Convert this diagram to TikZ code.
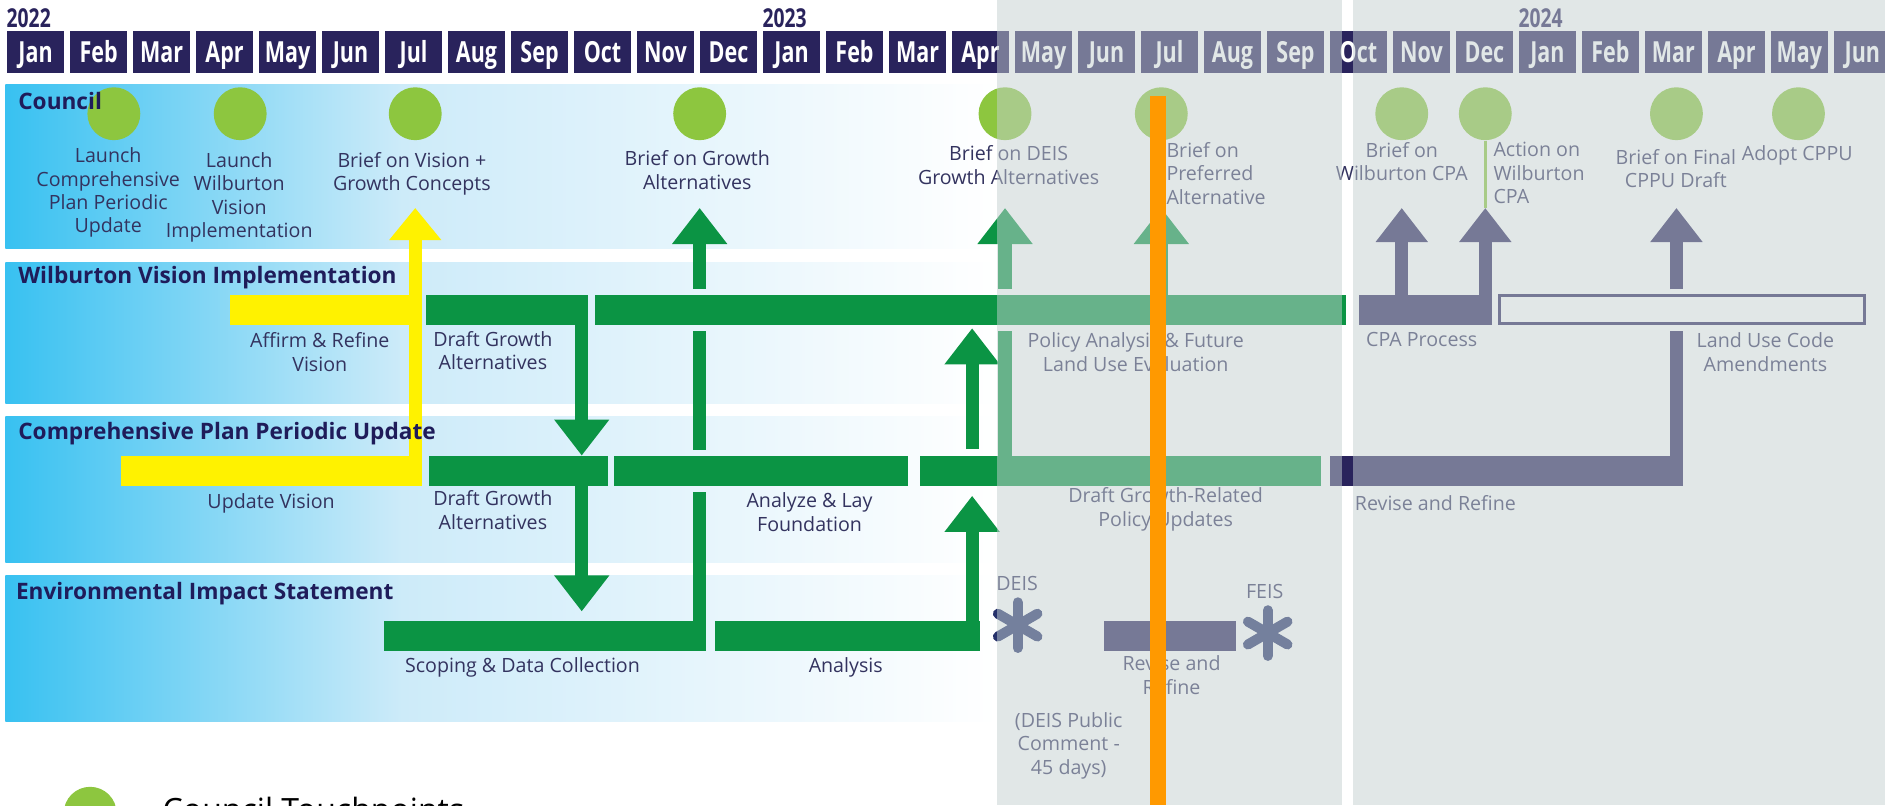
\documentclass[tikz,border=0pt]{standalone}
\usepackage{fontspec}
\setmainfont{Open Sans}
\newfontfamily\condfont[FakeStretch=0.74]{Open Sans}
\usetikzlibrary{positioning,arrows.meta}

\definecolor{navy}{HTML}{29235C}
\definecolor{bargreen}{HTML}{0B9444}
\definecolor{touchgreen}{HTML}{8DC63F}
\definecolor{visionyellow}{HTML}{FFF200}
\definecolor{textnavy}{HTML}{33335F}
\definecolor{titlenavy}{HTML}{1F1C5A}
\definecolor{laneblue}{HTML}{38C1F1}
\definecolor{lanemid}{HTML}{CDEBF9}
\definecolor{futuregray}{HTML}{C4D0D0}
\definecolor{todayorange}{HTML}{FF9900}
\definecolor{starnavy}{HTML}{25306A}

\pgfdeclarehorizontalshading{lanefade}{100bp}{color(0bp)=(laneblue); color(25bp)=(laneblue); color(45bp)=(lanemid); color(75bp)=(white); color(100bp)=(white)}

\newcommand{\timebar}[5]{\node[#1, minimum width={(#4-#3)*0.6pt}] (#2) at (#3,#5) {};}

\tikzset{
  monthbox/.style={fill=navy, text=white, minimum width=28.8pt, minimum height=21pt, inner sep=0pt,
    text height=10.4pt, text depth=0pt, font=\condfont\bfseries\fontsize{14.5}{14.5}\selectfont},
  yearlbl/.style={text=navy, inner sep=0pt, font=\condfont\bfseries\fontsize{13}{13}\selectfont},
  lanetitle/.style={text=titlenavy, inner sep=0pt, anchor=base west, font=\bfseries\fontsize{11.3}{13}\selectfont},
  lbl/.style={text=textnavy, inner sep=0pt, align=center, anchor=north, font=\fontsize{9.8}{11.7}\selectfont},
  touch/.style={circle, fill=touchgreen, minimum size=26.4pt, inner sep=0pt},
  tlbar/.style={minimum height=15.3pt, inner sep=0pt, outer sep=0pt, anchor=west},
  gbar/.style={tlbar, fill=bargreen},
  ybar/.style={tlbar, fill=visionyellow},
  nbar/.style={tlbar, fill=navy},
  gline/.style={draw=bargreen, line width=6.6pt},
  nline/.style={draw=navy, line width=6.6pt},
  garrow/.style={gline, -{Triangle[width=26.4pt,length=18pt]}},
  yarrow/.style={draw=visionyellow, line width=6.6pt, -{Triangle[width=25pt,length=16pt]}},
  narrow/.style={nline, -{Triangle[width=25pt,length=17pt]}},
  deisstar/.pic={\foreach \a in {90,30,-30} \draw[starnavy, line width=5pt, line cap=round] (\a:11.4pt) -- (\a+180:11.4pt);}
}

\begin{document}
\begin{tikzpicture}[x=0.6pt, y=-0.6pt]
\useasboundingbox (0,0) rectangle (1568,670);
\clip (0,0) rectangle (1568,670);

\shade[shading=lanefade] (4.5,70.7) rectangle (829.6,206.6);
\shade[shading=lanefade] (4.5,218.5) rectangle (829.6,335.5);
\shade[shading=lanefade] (4.5,346.6) rectangle (829.6,468);
\shade[shading=lanefade] (4.5,478.3) rectangle (829.6,600);

\foreach \mon [count=\i from 0] in {Jan,Feb,Mar,Apr,May,Jun,Jul,Aug,Sep,Oct,Nov,Dec,Jan,Feb,Mar,Apr,May,Jun,Jul,Aug,Sep,Oct,Nov,Dec,Jan,Feb,Mar,Apr,May,Jun}
  \node[monthbox] (m\i) at ({29.6+52.4*\i},43.5) {\mon};
\node[yearlbl, above right=1.4pt and 0pt of m0.north west] (y2022) {2022};
\node[yearlbl, above right=1.4pt and 0pt of m12.north west] (y2023) {2023};
\node[yearlbl, above right=1.4pt and 0pt of m24.north west] (y2024) {2024};

\foreach \cx [count=\ci] in {94.7,199.8,345.4,582,836,966,1166,1235.5,1394.5,1496}
  \node[touch] (c\ci) at (\cx,94.6) {};
\coordinate (tiprow) at (0,173);

\timebar{ybar}{affirm}{191}{341}{257.8}
\timebar{gbar}{wdraft}{354.5}{489.4}{257.8}
\timebar{gbar}{wpolicy}{495}{1119.6}{257.8}
\timebar{nbar}{cpa}{1130.5}{1241}{257.8}
\node[tlbar, draw=navy, fill=white, line width=1.5pt, minimum height=14pt, minimum width=182.4pt] (luc) at (1247.2,257.8) {};
\timebar{ybar}{upvision}{101}{351}{391.7}
\timebar{gbar}{cdraft}{356.5}{505.7}{391.7}
\timebar{gbar}{analyze}{510.7}{755.5}{391.7}
\timebar{gbar}{cpolicy}{765}{1099}{391.7}
\timebar{nbar}{crevise}{1106}{1400}{391.7}
\timebar{gbar}{scoping}{319.4}{587}{529}
\timebar{gbar}{analysis}{594.5}{814.8}{529}
\timebar{nbar}{erevise}{918.3}{1028}{529}

\draw[gline, shorten >=3pt] (scoping.north -| c4) -- (analyze.south -| c4);
\draw[gline, shorten <=3pt, shorten >=3pt] (analyze.north -| c4) -- (wpolicy.south -| c4);
\draw[garrow, shorten <=3pt] (wpolicy.north -| c4) -- (c4 |- tiprow);
\draw[gline, shorten >=3pt] (cpolicy.north -| c5) -- (wpolicy.south -| c5);
\draw[garrow, shorten <=3pt] (wpolicy.north -| c5) -- (c5 |- tiprow);
\draw[nline, shorten >=3.3pt] (crevise.north -| c9) -- (luc.south -| c9);
\draw[narrow, shorten <=3.3pt] (luc.north -| c9) -- (c9 |- tiprow);

\coordinate (dropx) at ([xshift=-3.3pt]wdraft.south east);
\coordinate (risex) at ([xshift=-3.7pt]analysis.north east);
\draw[garrow] (dropx) -- (dropx |- cdraft.north);
\draw[garrow, shorten >=4.6pt] (dropx |- cdraft.south) -- (dropx |- scoping.north);
\draw[garrow, shorten >=4.8pt] (risex) -- (risex |- cpolicy.south);
\draw[garrow, shorten <=3.2pt, shorten >=1.5pt] (risex |- cpolicy.north) -- (risex |- wpolicy.south);
\draw[garrow] (wpolicy.north -| c6) -- (c6 |- tiprow);
\draw[narrow] (cpa.north -| c7) -- (c7 |- tiprow);
\draw[narrow] (cpa.north -| c8) -- (c8 |- tiprow);
\draw[yarrow] (upvision.north -| c3) -- (c3 |- tiprow);
\draw[touchgreen, line width=1.3pt] (c8.south) -- (c8 |- tiprow);

\pic (deis) at (846.5,520) {deisstar};
\pic (feis) at (1054.5,526.6) {deisstar};

\node[lbl] (lc1) at (90,122.5) {Launch\\Comprehensive\\Plan Periodic\\Update};
\node[lbl] (lc2) at (199,126.5) {Launch\\Wilburton\\Vision\\Implementation};
\node[lbl] (lc3) at (342.6,126.5) {Brief on Vision +\\Growth Concepts};
\node[lbl] (lc4) at (580,125) {Brief on Growth\\Alternatives};
\node[lbl] (lc5) at (839,121) {Brief on DEIS\\Growth Alternatives};
\node[lbl, anchor=north west, align=left] (lc6) at (970,118) {Brief on\\Preferred\\Alternative};
\node[lbl] (lc7) at (1166,118) {Brief on\\Wilburton CPA};
\node[lbl, anchor=north west, align=left] (lc8) at (1242,118) {Action on\\Wilburton\\CPA};
\node[lbl] (lc9) at (1394,124) {Brief on Final\\CPPU Draft};
\node[lbl] (lc10) at (1495,121) {Adopt CPPU};

\node[lbl] (laffirm) at (266,276.4) {Affirm \& Refine\\Vision};
\node[lbl] (lwdraft) at (410,275) {Draft Growth\\Alternatives};
\node[lbl] (lwpolicy) at (944.7,276.4) {Policy Analysis \& Future\\Land Use Evaluation};
\node[lbl] (lcpa) at (1182.6,276.4) {CPA Process};
\node[lbl] (lluc) at (1468.5,276.4) {Land Use Code\\Amendments};

\node[lbl] (lupvision) at (225.5,410.6) {Update Vision};
\node[lbl] (lcdraft) at (410,408) {Draft Growth\\Alternatives};
\node[lbl] (lanalyze) at (673.4,409.5) {Analyze \& Lay\\Foundation};
\node[lbl] (lcpolicy) at (969.6,405.5) {Draft Growth-Related\\Policy Updates};
\node[lbl] (lcrevise) at (1194,412) {Revise and Refine};

\node[lbl] (lscoping) at (434.6,546.7) {Scoping \& Data Collection};
\node[lbl] (lanalysis) at (703.5,546.7) {Analysis};
\node[lbl] (ldeis) at (846,479) {DEIS};
\node[lbl] (lfeis) at (1052,486) {FEIS};
\node[lbl] (lerevise) at (974.5,545.3) {Revise and\\Refine};
\node[lbl] (lcomment) at (889,592.4) {(DEIS Public\\Comment -\\45 days)};

\node[lanetitle] (tcouncil) at (14.9,91.5) {Council};
\node[lanetitle] (twilburton) at (14.9,235.6) {Wilburton Vision Implementation};
\node[lanetitle] (tcompplan) at (14.9,365.5) {Comprehensive Plan Periodic Update};
\node[lanetitle] (teis) at (13,499) {Environmental Impact Statement};

\fill[futuregray, opacity=0.5] (829.6,0) rectangle (1116,670);
\fill[futuregray, opacity=0.5] (1125.6,0) rectangle (1568,670);

\draw[todayorange, line width=8pt] (963.5,80) -- (963.5,670);

\node[touch] (legdot) at (75,676.5) {};
\node[anchor=base west, inner sep=0pt, font=\fontsize{16}{16}\selectfont] (legtxt) at (135,683) {Council Touchpoints};
\end{tikzpicture}
\end{document}
